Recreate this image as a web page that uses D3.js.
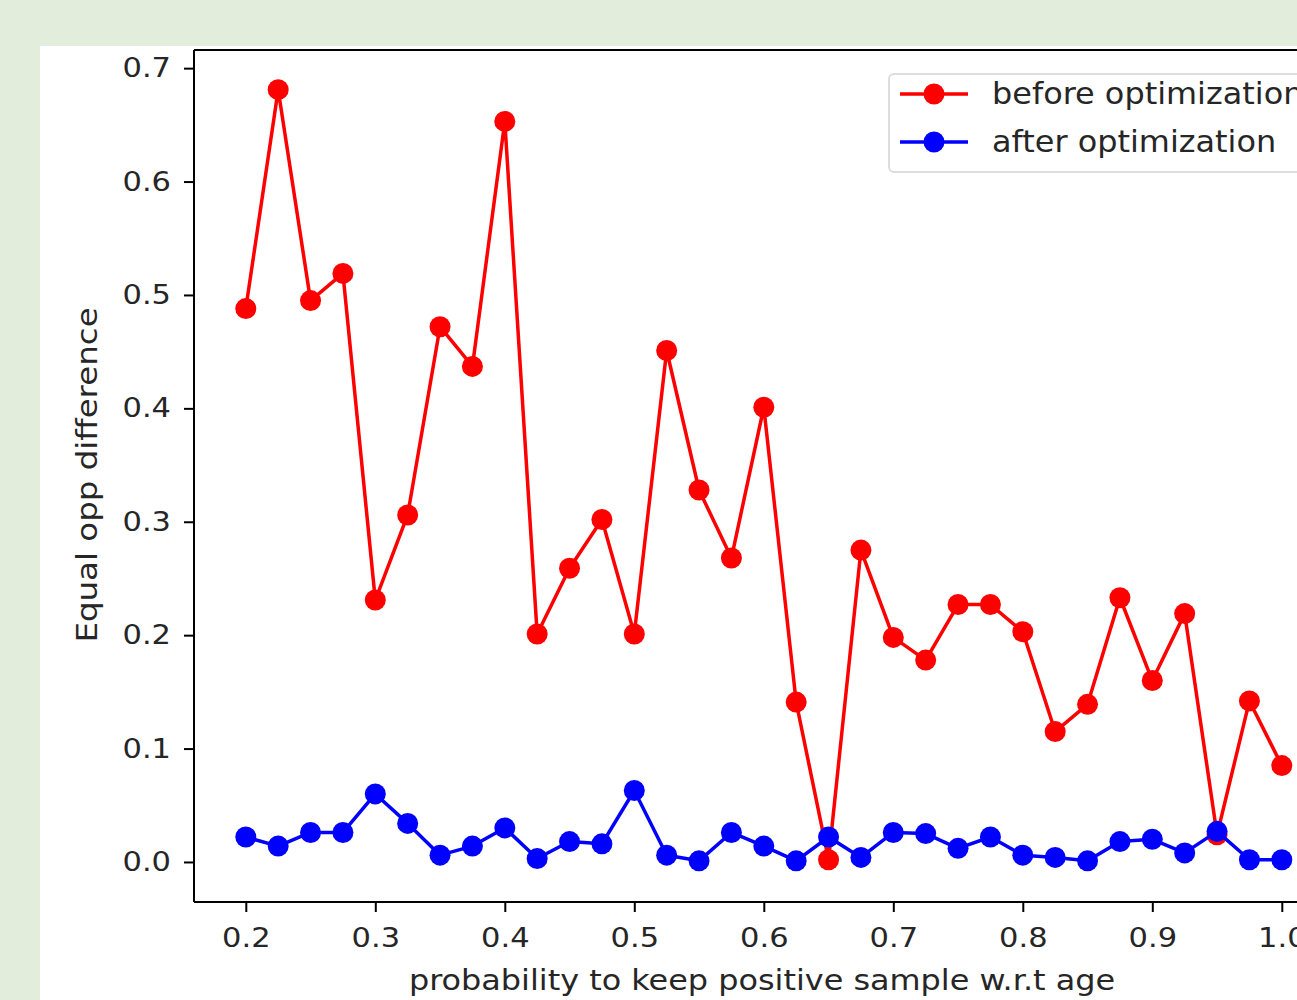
<!DOCTYPE html>
<html><head><meta charset="utf-8">
<script src="https://cdn.jsdelivr.net/npm/d3@7"></script>
<style>
html,body{margin:0;padding:0;background:#e2eedb;overflow:hidden}
svg{display:block}
text{font-family:"DejaVu Sans",sans-serif;fill:#262626}
</style></head>
<body>
<svg id="chart" width="1297" height="1000"></svg>
<script>
const xValues = [0.2,0.225,0.25,0.275,0.3,0.325,0.35,0.375,0.4,0.425,0.45,0.475,0.5,0.525,0.55,0.575,0.6,0.625,0.65,0.675,0.7,0.725,0.75,0.775,0.8,0.825,0.85,0.875,0.9,0.925,0.95,0.975,1.0];
const beforeOpt = [0.488,0.681,0.495,0.519,0.231,0.306,0.472,0.437,0.653,0.201,0.259,0.302,0.201,0.451,0.328,0.268,0.401,0.141,0.002,0.275,0.198,0.178,0.227,0.227,0.203,0.115,0.139,0.233,0.160,0.219,0.024,0.142,0.085];
const afterOpt = [0.022,0.014,0.026,0.026,0.060,0.034,0.006,0.014,0.030,0.003,0.018,0.016,0.063,0.006,0.001,0.026,0.014,0.001,0.022,0.004,0.026,0.025,0.012,0.022,0.006,0.004,0.001,0.018,0.020,0.008,0.027,0.002,0.002];
const xTicks = [0.2,0.3,0.4,0.5,0.6,0.7,0.8,0.9,1.0];
const yTicks = [0.0,0.1,0.2,0.3,0.4,0.5,0.6,0.7];
const seriesNames = ["before optimization","after optimization"];
const seriesColors = ["#ff0000","#0000ff"];

const svg = d3.select("#chart");
svg.append("rect").attr("x",40).attr("y",46).attr("width",1297-40).attr("height",1000-46).attr("fill","#ffffff");

const pLeft=194, pTop=50, pBottom=902;
const x = d3.scaleLinear().domain([0.16,1.04]).range([pLeft, pLeft+0.88*1295]);
const y = d3.scaleLinear().domain([-0.0353,0.716]).range([pBottom, pTop]);

function addText(parent, tx, ty, str, size, sx, anchor, rot){
  const g = parent.append("g").attr("transform",`translate(${tx},${ty})` + (rot?` rotate(${rot})`:""));
  return g.append("text").attr("transform",`scale(${sx},1)`).attr("text-anchor",anchor)
    .attr("font-size",size).text(str);
}

const plot = svg.append("g");
const series = [beforeOpt, afterOpt];
series.forEach((vals,i)=>{
  const pts = xValues.map((xv,j)=>[xv, vals[j]]);
  plot.append("path").datum(pts)
    .attr("fill","none").attr("stroke",seriesColors[i]).attr("stroke-width",3.5)
    .attr("stroke-linejoin","round")
    .attr("d", d3.line().x(d=>x(d[0])).y(d=>y(d[1])));
  plot.selectAll(null).data(pts).enter().append("circle")
    .attr("cx",d=>x(d[0])).attr("cy",d=>y(d[1])).attr("r",10.5)
    .attr("fill",seriesColors[i]);
});

svg.append("line").attr("x1",pLeft).attr("x2",1297).attr("y1",pTop).attr("y2",pTop).attr("stroke","#000").attr("stroke-width",2);
svg.append("line").attr("x1",pLeft).attr("x2",1297).attr("y1",pBottom).attr("y2",pBottom).attr("stroke","#000").attr("stroke-width",2);
svg.append("line").attr("x1",pLeft).attr("x2",pLeft).attr("y1",pTop).attr("y2",pBottom).attr("stroke","#000").attr("stroke-width",2);

const tickScale = 1.13;
const xAxis = d3.axisBottom(x).tickValues(xTicks).tickFormat(d3.format(".1f")).tickSize(10).tickPadding(16);
const gx = svg.append("g").attr("transform",`translate(0,${pBottom})`).call(xAxis);
gx.select(".domain").remove();
gx.selectAll("line").attr("stroke","#000").attr("stroke-width",2);
gx.selectAll("text").attr("font-size",27).attr("font-family","DejaVu Sans").attr("fill","#262626")
  .attr("dy","0.71em").attr("transform",`scale(${tickScale},1)`);

const yAxis = d3.axisLeft(y).tickValues(yTicks).tickFormat(d3.format(".1f")).tickSize(10).tickPadding(8);
const gy = svg.append("g").attr("transform",`translate(${pLeft},0)`).call(yAxis);
gy.select(".domain").remove();
gy.selectAll("line").attr("stroke","#000").attr("stroke-width",2);
gy.selectAll("text").attr("font-size",27).attr("font-family","DejaVu Sans").attr("fill","#262626")
  .attr("x",-23/tickScale).attr("transform",`scale(${tickScale},1)`);

addText(svg, 762, 990, "probability to keep positive sample w.r.t age", 29, 1.10, "middle", 0);
addText(svg, 97, 475, "Equal opp difference", 29, 1.12, "middle", -90);

const lg = svg.append("g");
lg.append("rect").attr("x",889).attr("y",74).attr("width",430).attr("height",98).attr("rx",5)
  .attr("fill","#ffffff").attr("fill-opacity",0.85).attr("stroke","#dddddd").attr("stroke-width",2);
seriesNames.forEach((name,i)=>{
  const cy = 94 + i*48;
  lg.append("line").attr("x1",900).attr("x2",968).attr("y1",cy).attr("y2",cy).attr("stroke",seriesColors[i]).attr("stroke-width",3.5);
  lg.append("circle").attr("cx",934).attr("cy",cy).attr("r",10.5).attr("fill",seriesColors[i]);
  addText(lg, 992, cy+10, name, 30, 1.064, "start", 0);
});
</script>
</body></html>
